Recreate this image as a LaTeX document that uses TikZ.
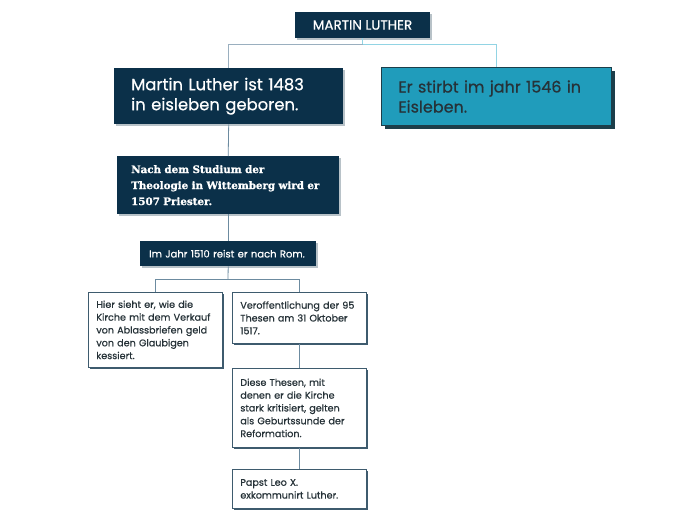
\documentclass[tikz,border=0pt]{standalone}
\usepackage{fontspec}
\setmainfont{Poppins}[FakeBold=0.6]
\newfontfamily\slabfont{DejaVu Serif}[FakeBold=1.2]
\usetikzlibrary{shadows}
\definecolor{navy}{HTML}{0B3049}
\definecolor{teal}{HTML}{209CBB}
\definecolor{tealborder}{HTML}{1C3E4A}
\definecolor{slate}{HTML}{3E5B6E}
\definecolor{conDark}{HTML}{6C8BA0}
\definecolor{conLeft}{HTML}{9AAFBF}
\definecolor{conRight}{HTML}{92D4E4}
\definecolor{darktext}{HTML}{263238}
\definecolor{shadowgray}{HTML}{B8C2C8}
\tikzset{
  navybox/.style={fill=navy, text=white, align=left, anchor=north west,
    drop shadow={shadow xshift=2pt, shadow yshift=-2pt, fill=shadowgray, opacity=1}},
  tealbox/.style={fill=teal, draw=tealborder, line width=1pt, text=darktext, align=left, anchor=north west,
    drop shadow={shadow xshift=3pt, shadow yshift=-3pt, fill=tealborder, opacity=1}},
  whitebox/.style={fill=white, draw=slate, line width=0.7pt, text=darktext, align=left, anchor=north west,
    inner xsep=8pt, text width=118pt, font=\fontsize{9.6}{12.8}\selectfont,
    drop shadow={shadow xshift=2pt, shadow yshift=-2pt, fill=slate, opacity=1}},
  con/.style={draw=conDark, line width=0.8pt},
  conL/.style={draw=conLeft, line width=0.8pt},
  conR/.style={draw=conRight, line width=0.8pt}
}
\begin{document}
\begin{tikzpicture}[x=1pt,y=-1pt]
\useasboundingbox[fill=white] (0,0) rectangle (697,520);
% title
\node[navybox, anchor=center, minimum width=135pt, minimum height=26pt, inner sep=0pt,
  font=\fontsize{13.5}{15}\selectfont] (title) at (362.5,25) {MARTIN LUTHER};
% level 1
\node[navybox, minimum width=229pt, minimum height=56pt, inner xsep=17pt, inner ysep=6pt,
  text width=195pt, font=\fontsize{16.4}{20}\selectfont] (b1) at (114,68)
  {Martin Luther ist 1483\\in eisleben geboren.};
\node[tealbox, minimum width=230pt, minimum height=58pt, inner xsep=17pt, inner ysep=6pt,
  text width=196pt, font=\fontsize{16}{20}\selectfont] (b2) at (381,67)
  {Er stirbt im jahr 1546 in\\Eisleben.};
% level 2
\node[navybox, minimum width=222pt, minimum height=58pt, inner xsep=14pt, inner ysep=5pt,
  text width=194pt, font=\slabfont\bfseries\fontsize{10.3}{16}\selectfont] (b3) at (117,156)
  {Nach dem Studium der\\Theologie in Wittemberg wird er\\1507 Priester.};
\node[navybox, minimum width=176pt, minimum height=25pt, inner xsep=9pt, inner ysep=3pt,
  text width=158pt, font=\fontsize{10}{11}\selectfont] (b4) at (140,241)
  {Im Jahr 1510 reist er nach Rom.};
% level 3
\node[whitebox, minimum height=75pt] (b5) at (88,292)
  {Hier sieht er, wie die\\Kirche mit dem Verkauf\\von Ablassbriefen geld\\von den Glaubigen\\kessiert.};
\node[whitebox, minimum height=51pt] (b6) at (232,292)
  {Veroffentlichung der 95\\Thesen am 31 Oktober\\1517.};
\node[whitebox, minimum height=79pt] (b7) at (232,368)
  {Diese Thesen, mit\\denen er die Kirche\\stark kritisiert, gelten\\als Geburtssunde der\\Reformation.};
\node[whitebox, minimum height=39pt] (b8) at (232,469)
  {Papst Leo X.\\exkommunirt Luther.};
% junctions
\coordinate (j0) at (362.5,44);
\coordinate (j1) at (228,279);
% connectors
\draw[conR] (title.south) -- (j0);
\draw[conL] (j0) -| (b1.north);
\draw[conR] (j0) -| (b2.north);
\draw[con] (b1.south) -- (b3.north);
\draw[con] (b3.south) -- (b4.north);
\draw[con] (b4.south) -- (j1);
\draw[con] (j1) -| (b5.north);
\draw[con] (j1) -| (b6.north);
\draw[con] (b6.south) -- (b7.north);
\draw[con] (b7.south) -- (b8.north);
\end{tikzpicture}
\end{document}
